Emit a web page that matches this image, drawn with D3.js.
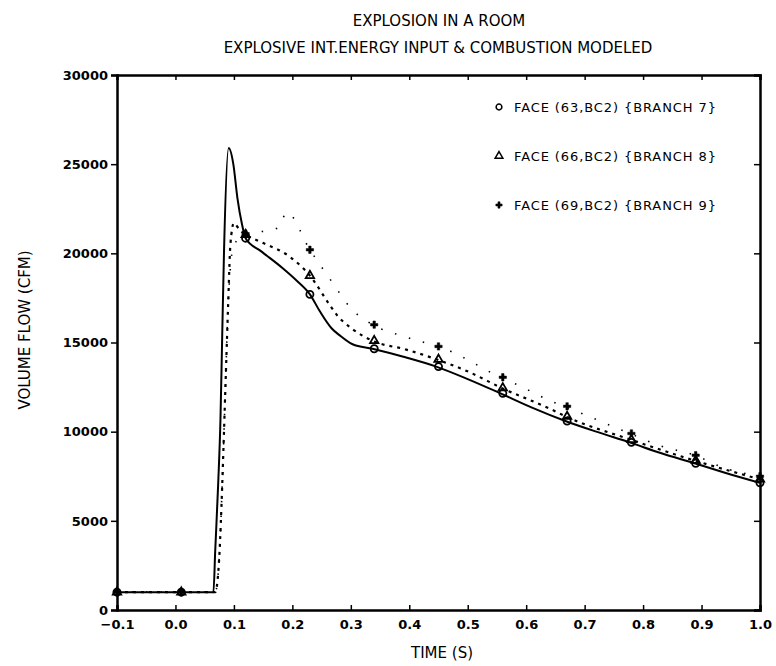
<!DOCTYPE html>
<html lang="en">
  <head>
    <meta charset="UTF-8" />
    <title>Explosion in a room</title>
    <script src="https://cdn.jsdelivr.net/npm/d3@7"></script>
    <style type="text/css">
      body { margin: 0; background: #fff; }
      text { font-family: 'DejaVu Sans', sans-serif; fill: #000; }
    </style>
  </head>
  <body>
    <div class="chart"></div>
    <script type="text/javascript">
      // face 63 (branch 7) - solid curve
      var time7 = [-0.1, 0.065, 0.068, 0.073, 0.077, 0.08, 0.083, 0.091, 0.099, 0.106, 0.114, 0.12, 0.145, 0.157, 0.184, 0.208, 0.23, 0.247, 0.267, 0.281, 0.303, 0.337, 0.39, 0.446, 0.5, 0.556, 0.61, 0.667, 0.72, 0.777, 0.83, 0.888, 0.94, 1.0]
      var flow7 = [1000, 1000, 3300, 7000, 10700, 15400, 20000, 25900, 25000, 23100, 21600, 20850, 20150, 19850, 19150, 18450, 17700, 16750, 15800, 15400, 14900, 14650, 14200, 13650, 12950, 12150, 11350, 10600, 10000, 9400, 8800, 8230, 7700, 7130]
      // face 66 (branch 8) - dashed curve
      var time8 = [-0.1, 0.068, 0.075, 0.08, 0.085, 0.09, 0.094, 0.1, 0.11, 0.12, 0.145, 0.196, 0.23, 0.264, 0.276, 0.303, 0.337, 0.395, 0.447, 0.502, 0.558, 0.643, 0.668, 0.779, 0.888, 1.0]
      var flow8 = [1000, 1000, 3000, 7000, 12000, 17000, 20500, 21700, 21300, 21050, 20650, 19800, 18750, 17100, 16550, 15750, 15100, 14600, 14050, 13350, 12450, 11250, 10850, 9550, 8380, 7330]
      // face 69 (branch 9) - sparse dotted curve
      var time9 = [-0.1, 0.068, 0.075, 0.08, 0.085, 0.09, 0.1, 0.12, 0.177, 0.19, 0.23, 0.274, 0.293, 0.312, 0.323, 0.337, 0.395, 0.464, 0.556, 0.587, 0.64, 0.667, 0.777, 0.83, 0.888, 0.94, 1.0]
      var flow9 = [1000, 1000, 3000, 7000, 12000, 17000, 20500, 21000, 21450, 22300, 20200, 18100, 17200, 16550, 16300, 16000, 15300, 14600, 13050, 12600, 11750, 11400, 9900, 9200, 8680, 7950, 7500]

      // symbols
      var markTime = [-0.1, 0.01, 0.12, 0.23, 0.34, 0.45, 0.56, 0.67, 0.78, 0.89, 1.0]
      var mark7 = [1000, 1000, 20850, 17700, 14650, 13650, 12150, 10600, 9400, 8230, 7130]
      var mark8 = [1000, 1000, 21050, 18750, 15100, 14050, 12450, 10850, 9550, 8380, 7330]
      var mark9 = [1000, 1000, 21100, 20200, 16000, 14780, 13050, 11420, 9900, 8680, 7500]

      var xTicks = [-0.1, 0.0, 0.1, 0.2, 0.3, 0.4, 0.5, 0.6, 0.7, 0.8, 0.9, 1.0]
      var yTicks = [0, 5000, 10000, 15000, 20000, 25000, 30000]
      var legendNames = ['FACE (63,BC2) {BRANCH 7}', 'FACE (66,BC2) {BRANCH 8}', 'FACE (69,BC2) {BRANCH 9}']

      var width = 776
      var height = 666
      // plot box (window.top is reserved, so pX names)
      var pLeft = 117, pRight = 760, pTop = 75, pBottom = 610

      var svg = d3.select('.chart').append('svg').attr('width', width).attr('height', height)

      var x = d3.scaleLinear().domain([-0.1, 1.0]).range([pLeft, pRight])
      var y = d3.scaleLinear().domain([0, 30000]).range([pBottom, pTop])

      // axes
      svg.append('g').attr('transform', `translate(${pLeft},0)`)
        .call(d3.axisLeft(y).tickValues(yTicks).tickSize(6).tickPadding(3).tickFormat(d3.format('d')))
      svg.append('g').attr('transform', `translate(${pRight},0)`)
        .call(d3.axisLeft(y).tickValues(yTicks).tickSize(6).tickFormat(''))
      svg.append('g').attr('transform', `translate(0,${pBottom})`)
        .call(d3.axisTop(x).tickValues(xTicks).tickSize(5).tickFormat(''))
      svg.append('g').attr('class', 'xlab').attr('transform', `translate(0,${pBottom})`)
        .call(d3.axisBottom(x).tickValues(xTicks).tickSize(0).tickPadding(10).tickFormat(d3.format('.1f')))
      svg.append('g').attr('transform', `translate(0,${pTop})`)
        .call(d3.axisBottom(x).tickValues(xTicks).tickSize(5).tickFormat(''))

      svg.selectAll('.domain').attr('stroke-width', 2.5)
      svg.selectAll('.tick line').attr('stroke-width', 1.5)
      svg.selectAll('.tick text').style('font-size', '13px').style('font-weight', 'bold')
        .style('font-family', "'DejaVu Sans', sans-serif")
      svg.select('.xlab .domain').remove()

      // lines
      var line = d3.line().x((d) => x(d[0])).y((d) => y(d[1])).curve(d3.curveMonotoneX)
      var zip = (a, b) => a.map((t, i) => [t, b[i]])

      svg.append('path').datum(zip(time7, flow7)).attr('d', line)
        .attr('fill', 'none').attr('stroke', '#000').attr('stroke-width', 2)
      svg.append('path').datum(zip(time8, flow8)).attr('d', line)
        .attr('fill', 'none').attr('stroke', '#000').attr('stroke-width', 2.2).attr('stroke-dasharray', '3,5')
      svg.append('path').datum(zip(time9, flow9)).attr('d', line)
        .attr('fill', 'none').attr('stroke', '#000').attr('stroke-width', 1.6).attr('stroke-dasharray', '1.5,13')

      // symbols
      var circ = d3.symbol().type(d3.symbolCircle).size(40)
      var tri = d3.symbol().type(d3.symbolTriangle).size(30)
      var plus = d3.symbol().type(d3.symbolCross).size(30)

      function drawMarks(vals, sym, filled) {
        svg.append('g').selectAll('path').data(zip(markTime, vals)).enter().append('path')
          .attr('d', sym)
          .attr('transform', (d) => `translate(${x(d[0])},${y(d[1])})`)
          .attr('fill', filled ? '#000' : 'none')
          .attr('stroke', '#000')
          .attr('stroke-width', filled ? 0.5 : 1.8)
      }
      drawMarks(mark8, tri, false)
      drawMarks(mark9, plus, true)
      drawMarks(mark7, circ, false)

      // legend
      var legendY = [107, 156, 205]
      legendNames.forEach((name, i) => {
        var g = svg.append('g').attr('transform', `translate(499,${legendY[i]})`)
        g.append('path').attr('d', d3.symbol().type([d3.symbolCircle, d3.symbolTriangle, d3.symbolCross][i]).size(i === 2 ? 22 : 26))
          .attr('fill', i === 2 ? '#000' : 'none').attr('stroke', '#000').attr('stroke-width', i === 2 ? 0.5 : 1.5)
        g.append('text').attr('x', 15).attr('dy', '0.35em').style('font-size', '13px').style('letter-spacing', '0.9px').text(name)
      })

      // titles
      svg.append('text').attr('x', 439).attr('y', 26).attr('text-anchor', 'middle').style('font-size', '15px').text('EXPLOSION IN A ROOM')
      svg.append('text').attr('x', 438).attr('y', 53).attr('text-anchor', 'middle').style('font-size', '15px').text('EXPLOSIVE INT.ENERGY INPUT & COMBUSTION MODELED')
      svg.append('text').attr('x', 442).attr('y', 658).attr('text-anchor', 'middle').style('font-size', '15px').text('TIME (S)')
      svg.append('text').attr('transform', 'translate(30,330) rotate(-90)').attr('text-anchor', 'middle').style('font-size', '15px').text('VOLUME FLOW (CFM)')
    </script>
  </body>
</html>
